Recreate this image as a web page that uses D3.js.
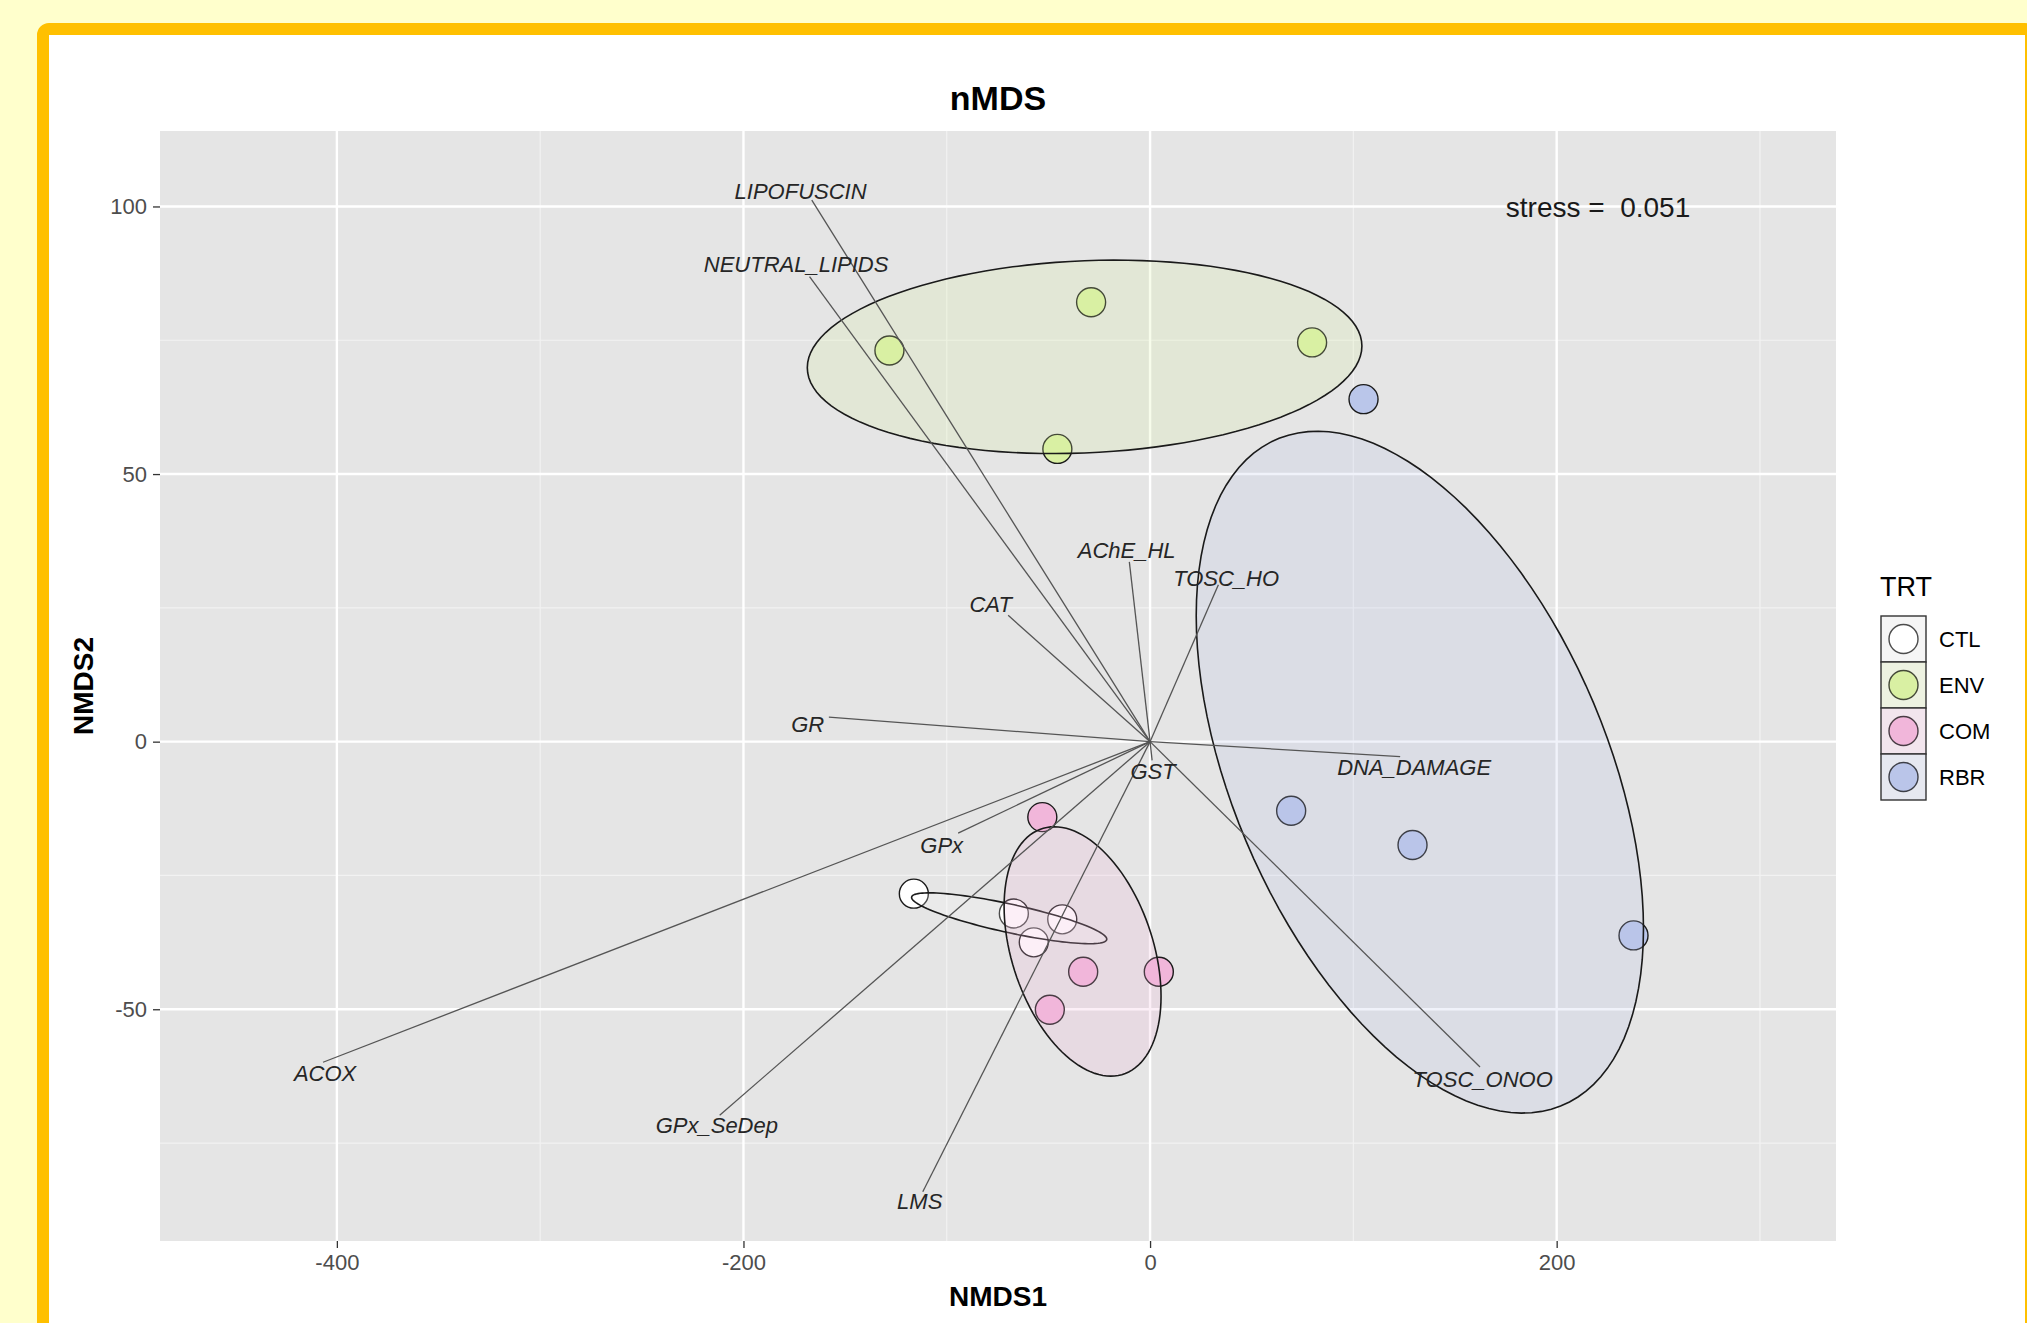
<!DOCTYPE html>
<html>
<head>
<meta charset="utf-8">
<script src="https://cdn.jsdelivr.net/npm/d3@7"></script>
<style>
  html, body { margin: 0; padding: 0; width: 2027px; height: 1323px; overflow: hidden; background: #FFFFCC; }
  #frame { position: absolute; left: 37px; top: 23px; width: 2000px; height: 1400px; box-sizing: border-box;
           border: 12.5px solid #FFC000; border-radius: 12px; background: #ffffff; }
  #chart { position: absolute; left: 0; top: 0; }
  text { font-family: "Liberation Sans", Arial, Helvetica, sans-serif; }
</style>
</head>
<body>
<div id="frame"></div>
<svg id="chart" width="2027" height="1323"></svg>
<script>
// ---- treatment groups ----
const groups = ["CTL", "ENV", "COM", "RBR"];
const groupColors = ["#FFFFFF", "#D9F0A3", "#F1B6DA", "#BAC6EA"];

// ---- site scores (NMDS1, NMDS2) ----
const siteGroup = ["CTL", "CTL", "CTL", "CTL",
                   "ENV", "ENV", "ENV", "ENV",
                   "COM", "COM", "COM", "COM",
                   "RBR", "RBR", "RBR", "RBR"];
const siteNMDS1 = [-116.2, -67.0, -43.2, -57.2,
                   -128.2, -29.0, 79.7, -45.6,
                   -53.0, -32.9, 4.3, -49.3,
                   105.0, 69.4, 129.1, 237.8];
const siteNMDS2 = [-28.4, -32.1, -33.2, -37.5,
                   73.1, 82.1, 74.6, 54.7,
                   -14.1, -43.0, -43.0, -50.1,
                   64.0, -12.9, -19.3, -36.2];

// ---- group ellipses: centre, half-extent along each axis, correlation ----
const ellipseCX    = [-69.3, -32.2, -33.2, 132.7];
const ellipseCY    = [-33.0, 71.9, -39.2, -5.7];
const ellipseHalfX = [48.0, 136.4, 38.6, 110.0];
const ellipseHalfY = [4.75, 18.07, 23.3, 63.7];
const ellipseRho   = [-0.82, 0.112, -0.36, -0.459];

// ---- fitted biomarker vectors ----
const varNames  = ["LIPOFUSCIN", "NEUTRAL_LIPIDS", "AChE_HL", "TOSC_HO", "CAT", "GR", "DNA_DAMAGE",
                   "GST", "GPx", "ACOX", "GPx_SeDep", "LMS", "TOSC_ONOO"];
const varEndX   = [-166.4, -167.5, -10.2, 33.6, -69.8, -158.0, 123.0, 1.0, -94.4, -406.8, -211.7, -111.8, 162.3];
const varEndY   = [101.2, 86.9, 33.6, 29.3, 23.6, 4.6, -2.8, -3.5, -17.1, -59.9, -69.8, -84.1, -60.8];
const varLabelX = [-171.9, -174.1, -11.5, 37.4, -78.4, -168.4, 129.9, 1.5, -102.5, -405.8, -213.1, -113.3, 163.6];
const varLabelY = [102.8, 89.3, 35.8, 30.6, 25.7, 3.3, -4.8, -5.5, -19.3, -62.0, -71.6, -85.9, -63.1];

// ---- axes ----
const xDomain = [-487.0, 337.4];
const yDomain = [-93.3, 114.1];
const xMajor = [-400, -200, 0, 200];
const xMinor = [-300, -100, 100, 300];
const yMajor = [-50, 0, 50, 100];
const yMinor = [-75, -25, 25, 75];
const stressValue = 0.051;

const panel = { left: 160, right: 1836, top: 131, bottom: 1241 };
const svg = d3.select("#chart");
const x = d3.scaleLinear().domain(xDomain).range([panel.left, panel.right]);
const y = d3.scaleLinear().domain(yDomain).range([panel.bottom, panel.top]);
const colorOf = d3.scaleOrdinal().domain(groups).range(groupColors);

// panel background
svg.append("rect")
  .attr("x", panel.left).attr("y", panel.top)
  .attr("width", panel.right - panel.left).attr("height", panel.bottom - panel.top)
  .attr("fill", "#E5E5E5");

// grid lines
const grid = svg.append("g");
grid.selectAll(".xmin").data(xMinor).join("line")
  .attr("x1", d => x(d)).attr("x2", d => x(d)).attr("y1", panel.top).attr("y2", panel.bottom)
  .attr("stroke", "#F2F2F2").attr("stroke-width", 1.2);
grid.selectAll(".ymin").data(yMinor).join("line")
  .attr("y1", d => y(d)).attr("y2", d => y(d)).attr("x1", panel.left).attr("x2", panel.right)
  .attr("stroke", "#F2F2F2").attr("stroke-width", 1.2);
grid.selectAll(".xmaj").data(xMajor).join("line")
  .attr("x1", d => x(d)).attr("x2", d => x(d)).attr("y1", panel.top).attr("y2", panel.bottom)
  .attr("stroke", "#FFFFFF").attr("stroke-width", 2.4);
grid.selectAll(".ymaj").data(yMajor).join("line")
  .attr("y1", d => y(d)).attr("y2", d => y(d)).attr("x1", panel.left).attr("x2", panel.right)
  .attr("stroke", "#FFFFFF").attr("stroke-width", 2.4);

// axes (plain hyphen-minus for negative tick labels)
const plain = d => String(d);
const xAxis = svg.append("g").attr("transform", `translate(0,${panel.bottom})`)
  .call(d3.axisBottom(x).tickValues(xMajor).tickSize(7).tickPadding(6).tickFormat(plain));
const yAxis = svg.append("g").attr("transform", `translate(${panel.left},0)`)
  .call(d3.axisLeft(y).tickValues(yMajor).tickSize(7).tickPadding(6).tickFormat(plain));
[xAxis, yAxis].forEach(a => {
  a.select(".domain").remove();
  a.selectAll(".tick line").attr("stroke", "#333333").attr("stroke-width", 1.3);
  a.selectAll(".tick text").attr("fill", "#4D4D4D")
    .style("font-family", "'Liberation Sans', Arial, sans-serif").style("font-size", "22px");
});

// site points (drawn beneath the ellipses)
const sites = siteNMDS1.map((v, i) => ({ x: v, y: siteNMDS2[i], g: siteGroup[i] }));
svg.append("g").selectAll("circle").data(sites).join("circle")
  .attr("cx", d => x(d.x)).attr("cy", d => y(d.y)).attr("r", 14.5)
  .attr("fill", d => colorOf(d.g)).attr("stroke", "#1a1a1a").attr("stroke-width", 1.4);

// ellipses
const ellipseLine = d3.line().x(p => x(p[0])).y(p => y(p[1]));
const ellipses = groups.map((g, i) => {
  const pts = d3.range(0, 361, 3).map(deg => {
    const t = deg * Math.PI / 180;
    const r = ellipseRho[i];
    return [ellipseCX[i] + ellipseHalfX[i] * Math.cos(t),
            ellipseCY[i] + ellipseHalfY[i] * (r * Math.cos(t) + Math.sqrt(1 - r * r) * Math.sin(t))];
  });
  return { g, pts };
});
svg.append("g").selectAll("path").data(ellipses).join("path")
  .attr("d", d => ellipseLine(d.pts) + "Z")
  .attr("fill", d => colorOf(d.g)).attr("fill-opacity", 0.22)
  .attr("stroke", "#1a1a1a").attr("stroke-width", 1.6);

// biomarker vectors
const vecs = varNames.map((n, i) => ({ n, ex: varEndX[i], ey: varEndY[i], lx: varLabelX[i], ly: varLabelY[i] }));
svg.append("g").selectAll("line").data(vecs).join("line")
  .attr("x1", x(0)).attr("y1", y(0)).attr("x2", d => x(d.ex)).attr("y2", d => y(d.ey))
  .attr("stroke", "#555555").attr("stroke-width", 1.3);
svg.append("g").selectAll("text").data(vecs).join("text")
  .attr("x", d => x(d.lx)).attr("y", d => y(d.ly)).attr("dy", "0.36em")
  .attr("text-anchor", "middle").attr("font-style", "italic").attr("font-size", 22)
  .attr("fill", "#262626").text(d => d.n);

// stress annotation
svg.append("text")
  .attr("x", 1598).attr("y", 217).attr("text-anchor", "middle")
  .attr("font-size", 28).attr("fill", "#1a1a1a").style("white-space", "pre")
  .text("stress =  " + stressValue.toFixed(3));

// titles
svg.append("text").attr("x", (panel.left + panel.right) / 2).attr("y", 110)
  .attr("text-anchor", "middle").attr("font-size", 34).attr("font-weight", "bold").attr("fill", "#000")
  .text("nMDS");
svg.append("text").attr("x", (panel.left + panel.right) / 2).attr("y", 1306)
  .attr("text-anchor", "middle").attr("font-size", 28).attr("font-weight", "bold").attr("fill", "#000")
  .text("NMDS1");
svg.append("text").attr("transform", `translate(93,${(panel.top + panel.bottom) / 2}) rotate(-90)`)
  .attr("text-anchor", "middle").attr("font-size", 28).attr("font-weight", "bold").attr("fill", "#000")
  .text("NMDS2");

// legend
const legend = svg.append("g").attr("transform", "translate(1881,616)");
legend.append("text").attr("x", -1).attr("y", -20).attr("font-size", 27).attr("fill", "#000").text("TRT");
const keySize = 46;
const keys = legend.selectAll("g.key").data(groups).join("g")
  .attr("transform", (d, i) => `translate(0,${i * keySize})`);
keys.append("rect").attr("width", 45).attr("height", keySize).attr("fill", "#F2F2F2");
keys.append("circle").attr("cx", 22.5).attr("cy", keySize / 2).attr("r", 14.5)
  .attr("fill", d => colorOf(d)).attr("stroke", "#1a1a1a").attr("stroke-width", 1.4);
keys.append("rect").attr("width", 45).attr("height", keySize)
  .attr("fill", d => colorOf(d)).attr("fill-opacity", 0.22)
  .attr("stroke", "#333333").attr("stroke-width", 1.4);
keys.append("text").attr("x", 58).attr("y", keySize / 2).attr("dy", "0.36em")
  .attr("font-size", 22).attr("fill", "#000").text(d => d);
</script>
</body>
</html>
